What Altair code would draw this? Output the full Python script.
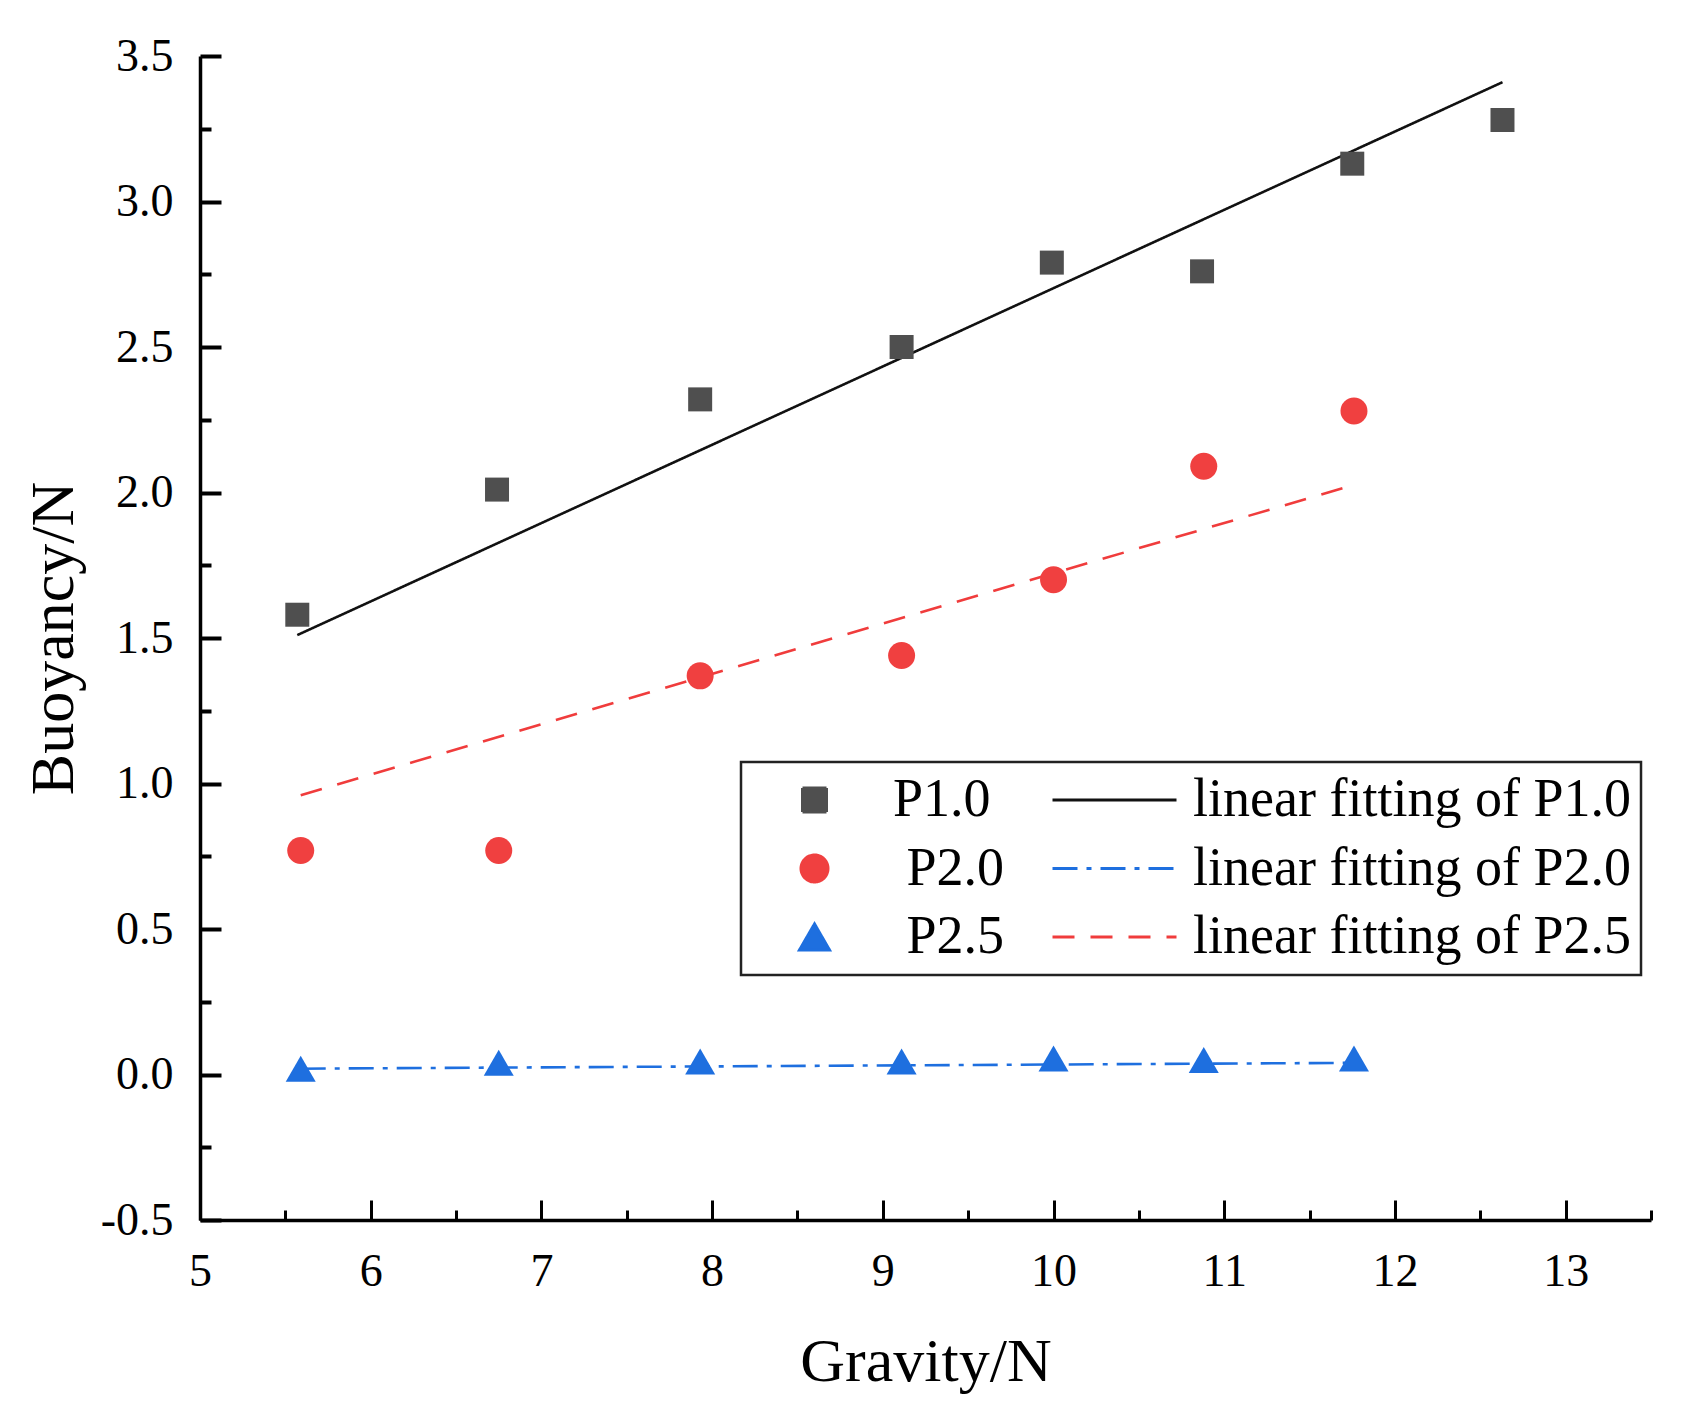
import altair as alt
import pandas as pd

p10_x = [5.57, 6.74, 7.93, 9.11, 9.99, 10.87, 11.75, 12.63]
p10_y = [1.58, 2.01, 2.32, 2.50, 2.79, 2.76, 3.13, 3.28]
p20_x = [5.59, 6.75, 7.93, 9.11, 10.00, 10.88, 11.76]
p20_y = [0.77, 0.77, 1.37, 1.44, 1.70, 2.09, 2.28]
p25_x = [5.59, 6.75, 7.93, 9.11, 10.00, 10.88, 11.76]
p25_y = [0.02, 0.04, 0.045, 0.045, 0.055, 0.05, 0.055]

# fitted lines, end points as drawn
fit10_x = [5.57, 12.63]
fit10_y = [1.51, 3.41]
fit_blue_x = [5.59, 11.76]   # labelled "linear fitting of P2.0" in the legend
fit_blue_y = [0.02, 0.04]
fit_red_x = [5.59, 11.78]    # labelled "linear fitting of P2.5" in the legend
fit_red_y = [0.96, 2.03]

# legend entries (the original has a leading space before P2.0 / P2.5;
# a zero-width char in front keeps that space from being trimmed)
s_p10, s_p20, s_p25 = "P1.0", "\u200b P2.0", "\u200b P2.5"
s_f10, s_f20, s_f25 = ("linear fitting of P1.0", "linear fitting of P2.0",
                       "linear fitting of P2.5")
series = [s_p10, s_f10, s_p20, s_f20, s_p25, s_f25]
colors = ["#4f4f4f", "#111111", "#f04040", "#1e6fdf", "#1e6fdf", "#f03c3c"]
shapes = ["square", "stroke", "circle", "stroke", "triangle-up", "stroke"]
dashes = [[1, 0], [1, 0], [1, 0], [25, 9, 5, 9], [1, 0], [22, 16]]
sizes = [576, 15376, 729, 15376, 900, 15376]

x_major = [5, 6, 7, 8, 9, 10, 11, 12, 13]
x_minor = [5.5, 6.5, 7.5, 8.5, 9.5, 10.5, 11.5, 12.5, 13.5]
y_major = [-0.5, 0.0, 0.5, 1.0, 1.5, 2.0, 2.5, 3.0, 3.5]
y_minor = [-0.25, 0.25, 0.75, 1.25, 1.75, 2.25, 2.75, 3.25]

pts = pd.concat([
    pd.DataFrame({"x": p10_x, "y": p10_y, "s": s_p10}),
    pd.DataFrame({"x": p20_x, "y": p20_y, "s": s_p20}),
    pd.DataFrame({"x": p25_x, "y": p25_y, "s": s_p25}),
])
fits = pd.concat([
    pd.DataFrame({"x": fit10_x, "y": fit10_y, "s": s_f10}),
    pd.DataFrame({"x": fit_blue_x, "y": fit_blue_y, "s": s_f20}),
    pd.DataFrame({"x": fit_red_x, "y": fit_red_y, "s": s_f25}),
])

W, H = 1451, 1164
FONT = "Liberation Serif"
xscale = alt.Scale(domain=[5, 13.5], nice=False, zero=False)
yscale = alt.Scale(domain=[-0.5, 3.5], nice=False, zero=False)

legend = alt.Legend(
    title=None, orient="none", legendX=541, legendY=706, columns=2,
    direction="horizontal", gridAlign="each", columnPadding=46, rowPadding=12.5,
    clipHeight=56, padding=10, labelFont=FONT, labelFontSize=54, labelColor="black",
    labelLimit=900, labelOffset=15, symbolStrokeWidth=3, strokeColor="#222222",
    fillColor="white",
)

color = alt.Color("s:N", scale=alt.Scale(domain=series, range=colors), legend=legend)
shape = alt.Shape("s:N", scale=alt.Scale(domain=series, range=shapes), legend=legend)
size = alt.Size("s:N", scale=alt.Scale(type="ordinal", domain=series, range=sizes), legend=legend)
dash = alt.StrokeDash("s:N", scale=alt.Scale(domain=series, range=dashes), legend=legend)

# layer 1: data points, labelled axes
points = alt.Chart(pts).mark_point(filled=True, opacity=1).encode(
    x=alt.X("x:Q", scale=xscale, axis=alt.Axis(
        orient="bottom", values=x_major, format="d", ticks=False, tickSize=0,
        labelFont=FONT, labelFontSize=46, labelColor="black", labelPadding=65,
        labelBaseline="alphabetic", labelFlush=False, grid=False,
        domainColor="black", domainWidth=3.5,
        title="Gravity/N", titleFont=FONT, titleFontSize=62, titleFontWeight="normal",
        titleColor="black", titleY=160, titleBaseline="alphabetic")),
    y=alt.Y("y:Q", scale=yscale, axis=alt.Axis(
        orient="left", values=y_major, format=".1f", ticks=False, tickSize=0,
        labelExpr="replace(datum.label, '\u2212', '-')",
        labelFont=FONT, labelFontSize=46, labelColor="black", labelPadding=27,
        labelFlush=False, grid=False, domainColor="black", domainWidth=3.5,
        title="Buoyancy/N", titleFont=FONT, titleFontSize=62, titleFontWeight="normal",
        titleColor="black", titleAngle=270, titleX=-128, titleY=H / 2,
        titleBaseline="alphabetic", titleAlign="center")),
    color=color, shape=shape, size=size,
)

# layer 2: fitted lines, carries the major (inward) ticks
lines = alt.Chart(fits).mark_line(strokeWidth=2.6).encode(
    x=alt.X("x:Q", scale=xscale, title=None, axis=alt.Axis(
        orient="top", offset=-H, values=x_major, labels=False, domain=False, grid=False,
        tickSize=20, tickWidth=3, tickColor="black")),
    y=alt.Y("y:Q", scale=yscale, title=None, axis=alt.Axis(
        orient="right", offset=-W, values=y_major, labels=False, domain=False, grid=False,
        tickSize=21, tickWidth=4, tickColor="black")),
    color=color, strokeDash=dash,
)

# layer 3: invisible copy of the points, carries the minor ticks
minor = alt.Chart(pts).mark_point(opacity=0).encode(
    x=alt.X("x:Q", scale=xscale, title=None, axis=alt.Axis(
        orient="top", offset=-H, values=x_minor, labels=False, domain=False, grid=False,
        tickSize=10, tickWidth=3, tickColor="black")),
    y=alt.Y("y:Q", scale=yscale, title=None, axis=alt.Axis(
        orient="right", offset=-W, values=y_minor, labels=False, domain=False, grid=False,
        tickSize=11, tickWidth=4, tickColor="black")),
)

chart = alt.layer(minor, lines, points).resolve_scale(
    x="independent", y="independent"
).properties(
    width=W, height=H,
    autosize=alt.AutoSizeParams(type="none"),
    padding={"left": 192, "top": 48, "right": 22, "bottom": 192},
    background="white",
).configure_view(stroke=None).configure_legend(strokeWidth=2.5)

chart.save("out.html", embed_options={"renderer": "svg", "actions": False})
